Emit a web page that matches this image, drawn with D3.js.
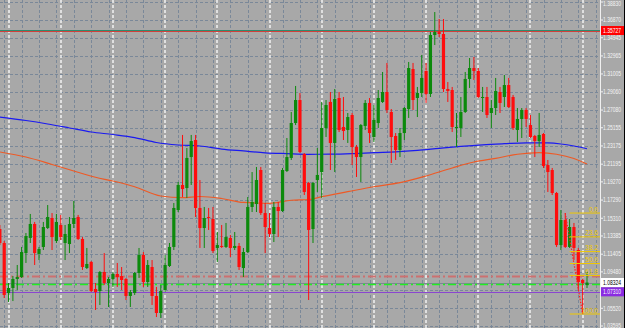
<!DOCTYPE html>
<html><head><meta charset="utf-8">
<script src="https://cdn.jsdelivr.net/npm/d3@7"></script>
<style>html,body{margin:0;padding:0;background:#a8a8a8;overflow:hidden}svg{display:block}</style>
</head><body><svg id="c" width="625" height="328"></svg>
<script>
// ---- data (prices) ----
const candleIdx = d3.range(-1, 135);
const open  = [1.1414,1.1262,1.0718,1.0773,1.0871,1.0892,1.1153,1.1317,1.1469,1.1143,1.1219,1.1425,1.1534,1.1284,1.1458,1.1262,1.1251,1.1469,1.1545,1.1306,1.0990,1.1056,1.0762,1.0740,1.0947,1.0827,1.0871,1.0925,1.0903,1.0871,1.0686,1.0718,1.0936,1.1132,1.0838,1.1001,1.0686,1.0501,1.0751,1.1012,1.1219,1.1621,1.1893,1.1860,1.2197,1.2382,1.1643,1.1425,1.1545,1.1523,1.1208,1.1230,1.1219,1.1317,1.1208,1.1230,1.0990,1.1164,1.1654,1.1686,1.2056,1.1588,1.1425,1.1360,1.1654,1.1610,1.2045,1.2187,1.2567,1.2817,1.2230,1.1915,1.1414,1.1947,1.2034,1.2513,1.2796,1.2350,1.2839,1.2524,1.2491,1.2654,1.2306,1.2197,1.2535,1.2785,1.2415,1.2567,1.2796,1.2904,1.2687,1.2426,1.2274,1.2458,1.2719,1.3154,1.2839,1.2893,1.3133,1.2883,1.3524,1.3557,1.3535,1.2937,1.2926,1.2513,1.2513,1.2687,1.3046,1.3165,1.3133,1.2839,1.2850,1.2676,1.2730,1.2904,1.2850,1.2980,1.2850,1.2491,1.2611,1.2709,1.2545,1.2426,1.2371,1.2448,1.2110,1.2056,1.1806,1.1240,1.1512,1.1219,1.1436,1.1186,1.0860,1.0805];
const high  = [1.1458,1.1284,1.0827,1.0903,1.1023,1.1219,1.1371,1.1578,1.1491,1.1219,1.1491,1.1675,1.1588,1.1578,1.1567,1.1458,1.1545,1.1719,1.1567,1.1327,1.1208,1.1066,1.0827,1.0958,1.1153,1.0892,1.0947,1.1045,1.1001,1.0882,1.0751,1.0947,1.1208,1.1164,1.1077,1.1077,1.0784,1.0805,1.1132,1.1262,1.1697,1.1926,1.2437,1.2295,1.2437,1.2437,1.1947,1.1654,1.1643,1.1654,1.1382,1.1458,1.1480,1.1349,1.1382,1.1262,1.1208,1.1762,1.2034,1.2089,1.2089,1.1697,1.1588,1.1708,1.1708,1.2078,1.2404,1.2687,1.2970,1.2893,1.2241,1.1926,1.1926,1.2295,1.2796,1.2817,1.2904,1.2937,1.2904,1.2850,1.2676,1.2676,1.2328,1.2556,1.2817,1.2839,1.2763,1.2926,1.3122,1.3220,1.2719,1.2458,1.2513,1.2741,1.3231,1.3220,1.2959,1.3307,1.3220,1.3557,1.3774,1.3698,1.3698,1.3013,1.2959,1.2676,1.2850,1.3122,1.3274,1.3285,1.3165,1.2959,1.2959,1.2817,1.3057,1.2959,1.3089,1.3057,1.2872,1.2730,1.2730,1.2730,1.2654,1.2437,1.2676,1.2458,1.2165,1.2078,1.1817,1.1621,1.1588,1.1523,1.1480,1.1208,1.0871,1.0947];
const low   = [1.1240,1.0664,1.0621,1.0631,1.0751,1.0882,1.1045,1.1262,1.1023,1.1077,1.1186,1.1414,1.1186,1.1262,1.1295,1.1077,1.1153,1.1425,1.1295,1.0969,1.0979,1.0729,1.0534,1.0588,1.0805,1.0566,1.0784,1.0784,1.0751,1.0642,1.0566,1.0697,1.0882,1.0784,1.0784,1.0588,1.0457,1.0447,1.0729,1.1001,1.1186,1.1599,1.1762,1.1752,1.1893,1.1545,1.1208,1.1208,1.1404,1.1153,1.1056,1.1208,1.1208,1.1110,1.1186,1.0969,1.0892,1.1153,1.1599,1.1599,1.1567,1.1153,1.1327,1.1273,1.1327,1.1599,1.2034,1.2165,1.2545,1.2241,1.1784,1.0642,1.1262,1.1817,1.1752,1.2415,1.2056,1.2034,1.2469,1.2382,1.2350,1.2110,1.1980,1.1926,1.2491,1.2350,1.2361,1.2513,1.2785,1.2676,1.2132,1.2165,1.2197,1.2382,1.2622,1.2709,1.2632,1.2850,1.2785,1.2850,1.3415,1.3502,1.2904,1.2796,1.2469,1.2306,1.2415,1.2676,1.2948,1.3035,1.2839,1.2687,1.2622,1.2513,1.2654,1.2676,1.2741,1.2730,1.2491,1.2361,1.2404,1.2524,1.2404,1.2197,1.2306,1.2078,1.1817,1.1784,1.1219,1.1186,1.1208,1.1208,1.1077,1.0751,1.0490,1.0773];
const close = [1.1262,1.0697,1.0773,1.0871,1.0892,1.1164,1.1338,1.1469,1.1153,1.1197,1.1436,1.1545,1.1327,1.1491,1.1327,1.1360,1.1469,1.1534,1.1306,1.1001,1.1034,1.0740,1.0729,1.0947,1.0827,1.0871,1.0925,1.0892,1.0860,1.0686,1.0729,1.0936,1.1132,1.0838,1.1023,1.0686,1.0501,1.0740,1.1023,1.1219,1.1643,1.1893,1.1849,1.2187,1.2371,1.1643,1.1425,1.1534,1.1534,1.1175,1.1240,1.1219,1.1327,1.1208,1.1230,1.1001,1.1164,1.1654,1.1708,1.1947,1.1588,1.1436,1.1360,1.1654,1.1610,1.2056,1.2197,1.2567,1.2817,1.2252,1.1817,1.1404,1.1915,1.2002,1.2513,1.2763,1.2350,1.2828,1.2491,1.2480,1.2632,1.2306,1.2197,1.2545,1.2785,1.2458,1.2600,1.2839,1.2904,1.2709,1.2415,1.2274,1.2458,1.2730,1.3165,1.2817,1.2893,1.3057,1.2883,1.3524,1.3557,1.3535,1.2937,1.2915,1.2524,1.2524,1.2687,1.3046,1.3165,1.3133,1.2850,1.2850,1.2654,1.2730,1.2915,1.2785,1.2980,1.2741,1.2513,1.2611,1.2709,1.2611,1.2415,1.2371,1.2437,1.2100,1.2034,1.1806,1.1240,1.1512,1.1219,1.1436,1.1208,1.0838,1.0827,1.0832];

// moving averages, read at selected candles
const maBlueIdx = [-1,5,10,15,20,25,30,35,40,45,50,55,60,65,70,75,80,85,90,95,100,105,110,115,120,125,128,131,134];
const maBlue    = [1.2632,1.2594,1.2556,1.2513,1.2469,1.2442,1.2409,1.2355,1.2328,1.2317,1.2284,1.2263,1.2243,1.2234,1.2227,1.2228,1.2234,1.2245,1.2254,1.2270,1.2292,1.2313,1.2330,1.2342,1.2352,1.2350,1.2339,1.2317,1.2287];
const maOrangeIdx = [-1,5,11,16,21,25,30,36,41,45,50,55,61,66,70,73,79,85,91,97,103,108,113,118,123,127,131,134];
const maOrange    = [1.2252,1.2197,1.2116,1.2045,1.1977,1.1936,1.1874,1.1773,1.1755,1.1768,1.1746,1.1703,1.1694,1.1727,1.1735,1.1766,1.1820,1.1874,1.1918,1.1991,1.2078,1.2143,1.2183,1.2227,1.2244,1.2227,1.2181,1.2121];

const priceTicks = ["1.38830","1.36870","1.34945","1.32965","1.31005","1.29060","1.27080","1.25155","1.23175","1.21195","1.19270","1.17290","1.15310","1.13385","1.11405","1.09480","1.07500","1.05520","1.03595"];
const separatorIdx = [1,13,25,37,49,61,73,85,97,109,121,133];
const gridIdx = d3.range(0, 137, 4);

const fibHigh = 1.1588, fibLow = 1.0490;
const fibLevels = [0, 23.6, 38.2, 50.0, 61.8, 100.0];
const fibStartIdx = 130, fibP1Idx = 129, fibP2Idx = 133;

const levelRed = 1.0898, bidPrice = 1.08324, levelGreen = 1.0813, levelPurple = 1.07310;
const topRed = 1.35727, topTeal = 1.3582;

// ---- scales ----
const plotR = 600;
const x = d3.scaleLinear().domain([0, 134]).range([4.2, 587]);
const y = d3.scaleLinear().domain([1.03595, 1.38830]).range([326, 2]);

const svg = d3.select("#c");
svg.append("rect").attr("width",625).attr("height",328).attr("fill","#a8a8a8");
svg.append("defs").append("clipPath").attr("id","clip").append("rect")
  .attr("x",0).attr("y",0).attr("width",plotR).attr("height",328);
const g = svg.append("g").attr("clip-path","url(#clip)");

// grid
g.selectAll(".hg").data(priceTicks).enter().append("line")
  .attr("x1",0).attr("x2",plotR)
  .attr("y1",d=>Math.round(y(+d))+0.5).attr("y2",d=>Math.round(y(+d))+0.5)
  .attr("stroke","#7a8899").attr("stroke-width",1).attr("stroke-dasharray","3,2");
g.selectAll(".vg").data(gridIdx).enter().append("line")
  .attr("x1",d=>Math.round(x(d))+0.5).attr("x2",d=>Math.round(x(d))+0.5)
  .attr("y1",0).attr("y2",328)
  .attr("stroke","#7a8899").attr("stroke-width",1).attr("stroke-dasharray","3,2");
g.selectAll(".sep").data(separatorIdx).enter().append("line")
  .attr("x1",d=>Math.round(x(d))).attr("x2",d=>Math.round(x(d)))
  .attr("y1",0).attr("y2",328)
  .attr("stroke","#f2f2f2").attr("stroke-width",1.5).attr("stroke-dasharray","3,2");

// horizontal level lines
function hline(p, color, w, dash){
  const yy = Math.round(y(p)) + 0.5;
  const l = g.append("line").attr("x1",0).attr("x2",plotR).attr("y1",yy).attr("y2",yy)
    .attr("stroke",color).attr("stroke-width",w);
  if(dash) l.attr("stroke-dasharray",dash);
}
hline(topTeal, "#2e8b6f", 1);
hline(topRed, "#d0403a", 1);
hline(levelRed, "#cc7070", 2, "8,3,2,3");
hline(bidPrice, "#7c8794", 1);
hline(levelGreen, "#22ee22", 1.5, "8,3,2,3");
hline(levelPurple, "#8a46d0", 1.2);

// moving averages
const lineGen = d3.line().x(d=>x(d[0])).y(d=>y(d[1])).curve(d3.curveMonotoneX);
g.append("path").datum(maBlueIdx.map((k,i)=>[k,maBlue[i]]))
  .attr("d",lineGen).attr("fill","none").attr("stroke","#1a1af0").attr("stroke-width",1.2);
g.append("path").datum(maOrangeIdx.map((k,i)=>[k,maOrange[i]]))
  .attr("d",lineGen).attr("fill","none").attr("stroke","#ee5a26").attr("stroke-width",1.2);

// candles
const candles = candleIdx.map((k,i)=>({k, o:open[i], h:high[i], l:low[i], c:close[i]}));
const bull = "#0c8a0c", bear = "#ff0d0d";
const cg = g.selectAll(".cd").data(candles).enter().append("g");
cg.append("line")
  .attr("x1",d=>x(d.k)).attr("x2",d=>x(d.k))
  .attr("y1",d=>y(d.h)).attr("y2",d=>y(d.l))
  .attr("stroke",d=>d.c>=d.o?bull:bear).attr("stroke-width",1);
cg.append("rect")
  .attr("x",d=>x(d.k)-1.6).attr("width",3.2)
  .attr("y",d=>y(Math.max(d.o,d.c)))
  .attr("height",d=>Math.max(1, y(Math.min(d.o,d.c))-y(Math.max(d.o,d.c))))
  .attr("fill",d=>d.c>=d.o?bull:bear);

// fibonacci
g.append("line")
  .attr("x1",x(fibP1Idx)).attr("y1",y(fibHigh)).attr("x2",x(fibP2Idx)).attr("y2",y(fibLow))
  .attr("stroke","#ff2020").attr("stroke-width",1.2).attr("stroke-dasharray","1.5,1.5");
fibLevels.forEach(r=>{
  const p = fibHigh - r/100*(fibHigh-fibLow);
  g.append("line").attr("x1",x(fibStartIdx)).attr("x2",plotR)
    .attr("y1",y(p)).attr("y2",y(p)).attr("stroke","#f0c800").attr("stroke-width",1);
  g.append("text").attr("x",598).attr("y",y(p)-1.5).attr("text-anchor","end")
    .attr("font-family","Liberation Sans, Arial, sans-serif").attr("font-size",6.5)
    .attr("fill","#f0c800").text(r.toFixed(1));
});

// price axis
svg.append("line").attr("x1",plotR+0.5).attr("x2",plotR+0.5).attr("y1",0).attr("y2",328)
  .attr("stroke","#f0f0f0").attr("stroke-width",1);
const font = "Liberation Sans, Arial, sans-serif";
const tags = [topRed, bidPrice, levelPurple];
priceTicks.forEach(t=>{
  const yy = y(+t);
  svg.append("line").attr("x1",plotR).attr("x2",plotR+3).attr("y1",yy).attr("y2",yy)
    .attr("stroke","#f0f0f0");
  if (tags.some(p=>Math.abs(y(p)-yy) < 6)) return; // hidden under a price tag
  svg.append("text").attr("x",603).attr("y",Math.max(yy,3.5)).attr("dy","0.35em")
    .attr("font-family",font).attr("font-size",6.5).attr("fill","#f4f4f4")
    .attr("textLength",18).attr("lengthAdjust","spacingAndGlyphs").text(t);
});
function tag(p, bg, fg){
  const yy = y(p);
  svg.append("rect").attr("x",plotR+1).attr("y",yy-4.5).attr("width",23).attr("height",9).attr("fill",bg);
  svg.append("text").attr("x",603).attr("y",yy).attr("dy","0.35em")
    .attr("font-family",font).attr("font-size",6.5).attr("fill",fg)
    .attr("textLength",18).attr("lengthAdjust","spacingAndGlyphs").text(p.toFixed(5));
}
tag(topRed, "#ff0000", "#ffffff");
tag(bidPrice, "#ffffff", "#000000");
tag(levelPurple, "#8a2be2", "#ffffff");

svg.append("line").attr("x1",624.5).attr("x2",624.5).attr("y1",0).attr("y2",328)
  .attr("stroke","#000").attr("stroke-width",1);
</script></body></html>
